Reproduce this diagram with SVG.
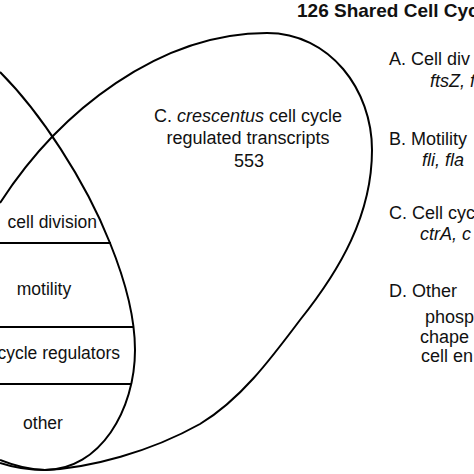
<svg xmlns="http://www.w3.org/2000/svg" width="474" height="474" viewBox="0 0 474 474">
<style>
.c{fill:none;stroke:#000;stroke-width:2}
.t{font-family:"Liberation Sans",Arial,sans-serif;font-size:17.5px;fill:#111}
.l{font-size:18px}
.i{font-style:italic}
.b{font-weight:bold;font-size:19px}
</style>
<rect width="474" height="474" fill="#fff"/>
<g id="connectors">
<path id="left-set" class="c" d="M0,72 C40,112 85,180 110,243 C125,280 135,315 135,350 C135,410 100,470 45,470 C30,470 15,466 0,460"/>
<path id="right-set" class="c" d="M0,203 C60,110 160,33 267,33 C330,33 372,90 372,150 C372,215 340,270 300,320 C270,360 240,400 200,424 C150,452 90,468 45,470 C30,470 12,467 0,463"/>
<line class="c" x1="0" y1="243" x2="111" y2="243"/>
<line class="c" x1="0" y1="327" x2="134" y2="327"/>
<line class="c" x1="0" y1="384" x2="132" y2="384"/>
</g>
<g id="node-cell-division"><text class="t" x="97" y="228" text-anchor="end">cell division</text></g>
<g id="node-motility"><text class="t" x="44" y="295" text-anchor="middle">motility</text></g>
<g id="node-regulators"><text class="t" x="120" y="359" text-anchor="end">cycle regulators</text></g>
<g id="node-other"><text class="t" x="43" y="429" text-anchor="middle">other</text></g>
<g id="node-ccrescentus">
<text class="t l" x="248" y="122" text-anchor="middle">C. <tspan class="i">crescentus</tspan> cell cycle</text>
<text class="t l" x="248" y="144" text-anchor="middle">regulated transcripts</text>
<text class="t l" x="249" y="167" text-anchor="middle">553</text>
</g>
<g id="legend">
<text class="t b" x="297" y="17">126 Shared Cell Cyc</text>
<text class="t l" x="389" y="65">A. Cell div</text>
<text class="t l i" x="430" y="87">ftsZ, f</text>
<text class="t l" x="389" y="145">B. Motility</text>
<text class="t l i" x="422" y="166">fli, fla</text>
<text class="t l" x="389" y="219">C. Cell cyc</text>
<text class="t l i" x="420" y="240">ctrA, c</text>
<text class="t l" x="389" y="297">D. Other</text>
<text class="t l" x="425" y="323">phosp</text>
<text class="t l" x="420" y="343">chape</text>
<text class="t l" x="421" y="362">cell en</text>
</g>
</svg>
